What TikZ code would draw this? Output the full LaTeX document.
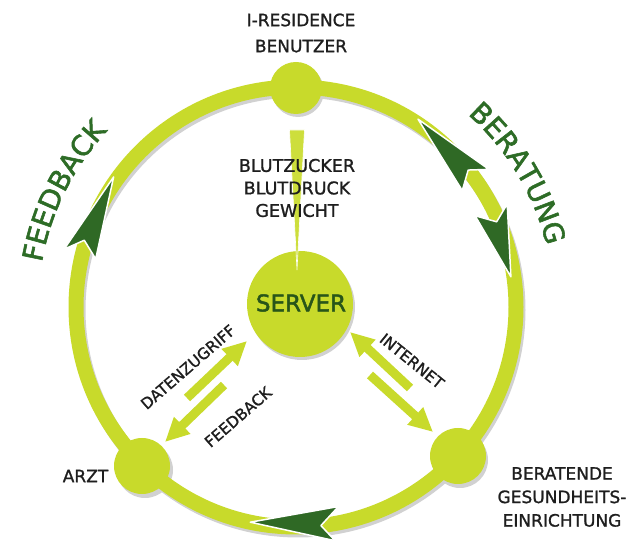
\documentclass[tikz,border=0pt]{standalone}
\usepackage{fontspec}
\setmainfont{DejaVu Sans}
\newfontfamily\medfont[FakeBold=1.2]{DejaVu Sans}
\newfontfamily\heavyfont[FakeBold=2]{DejaVu Sans}
\usetikzlibrary{arrows.meta,decorations.text}
\definecolor{ringgreen}{RGB}{200,218,43}
\definecolor{wedgegreen}{RGB}{205,222,60}
\definecolor{darkgreen}{RGB}{47,105,37}
\definecolor{txtgreen}{RGB}{45,108,38}
\definecolor{servertxt}{RGB}{40,85,25}
\definecolor{labeltxt}{RGB}{30,30,30}
\tikzset{
  ring/.style={draw=ringgreen, line width=15pt},
  ringshadow/.style={draw=black!18, line width=15pt},
  hub/.style={circle, fill=ringgreen, inner sep=0pt},
  hubshadow/.style={circle, fill=black!18, inner sep=0pt},
  lbl/.style={text=labeltxt, font=\medfont\fontsize{17}{23.5}\selectfont, align=center, inner sep=0pt},
  smalllbl/.style={text=labeltxt, font=\medfont\fontsize{15.5}{18}\selectfont, inner sep=0pt},
  fatarrow/.style={draw=ringgreen, line width=9pt, -{Triangle[length=24pt,width=22pt]}},
  ringhead/.style={fill=darkgreen, draw=white, line width=1.5pt, line join=round},
}
\begin{document}
\begin{tikzpicture}[x=1pt,y=1pt]
\useasboundingbox (0,0) rectangle (643,540);
\coordinate (C) at (296,233);

% shadows
\draw[ringshadow] (298,230) circle[radius=220];
\node[hubshadow, minimum size=52pt] at (298,449) {};
\node[hubshadow, minimum size=56pt] at (145,70) {};
\node[hubshadow, minimum size=56pt] at (460,80) {};
\node[hubshadow, minimum size=106pt] at (302,233) {};

% ring
\draw[ring] (C) circle[radius=220];

% hubs
\node[hub, minimum size=52pt] (top) at (296,452) {};
\node[hub, minimum size=56pt] (arzt) at (142,74) {};
\node[hub, minimum size=56pt] (gesund) at (458,84) {};
\node[hub, minimum size=106pt] (server) at (300,236) {};

% wedge from user to server
\fill[wedgegreen, draw=white, line width=0.6pt] (289.5,410) -- (304.5,410) -- (297,270) -- cycle;

% ring arrowheads
\begin{scope}[shift={(C)}]
  \path[ringhead] (144.5:224) -- (166:239) -- (162.5:222) -- (166.5:206) -- cycle;
  \path[ringhead] (57:224) -- (35.5:237) -- (38.5:220) -- (35:203) -- cycle;
  \path[ringhead] (8:217) -- (26:235) -- (23:218) -- (27:201) -- cycle;
  \path[ringhead] (258:220) -- (279.5:237) -- (276.5:220) -- (282:204) -- cycle;
\end{scope}

% curved titles
\path[decorate, decoration={text along path, text align=center,
  text={|\heavyfont\fontsize{28}{28}\selectfont\color{txtgreen}|FEEDBACK}}]
  (C) ++(174:258) arc[start angle=174, end angle=133, radius=258];
\path[decorate, decoration={text along path, text align=center,
  text={|\heavyfont\fontsize{28}{28}\selectfont\color{txtgreen}|BERATUNG}}]
  (C) ++(52:258) arc[start angle=52, end angle=10, radius=258];

% double arrows
\coordinate (a1) at (187,142); \coordinate (a2) at (247,199);
\coordinate (b1) at (224,155); \coordinate (b2) at (165,98);
\coordinate (c1) at (410,152); \coordinate (c2) at (350,208);
\coordinate (d1) at (370,165); \coordinate (d2) at (433,108);
\draw[fatarrow] (a1) -- (a2);
\draw[fatarrow] (b1) -- (b2);
\draw[fatarrow] (c1) -- (c2);
\draw[fatarrow] (d1) -- (d2);

% labels
\node[lbl, font=\medfont\fontsize{17}{26}\selectfont] (userlbl) at (301,507) {I-RESIDENCE\\BENUTZER};
\node[lbl, font=\medfont\fontsize{17.5}{22.5}\selectfont] (datalbl) at (297,352) {BLUTZUCKER\\BLUTDRUCK\\GEWICHT};
\node[text=servertxt, font=\heavyfont\fontsize{23}{23}\selectfont, inner sep=0pt] (serverlbl) at (301,237) {SERVER};
\node[lbl] (arztlbl) at (85.5,64) {ARZT};
\node[lbl] (gesundlbl) at (562,43) {BERATENDE\\GESUNDHEITS-\\EINRICHTUNG};
\node[smalllbl, rotate=41] (dzlbl) at (188,173) {DATENZUGRIFF};
\node[smalllbl, rotate=41] (fblbl) at (238,123) {FEEDBACK};
\node[smalllbl, rotate=-39] (inetlbl) at (412,179) {INTERNET};
\end{tikzpicture}
\end{document}
